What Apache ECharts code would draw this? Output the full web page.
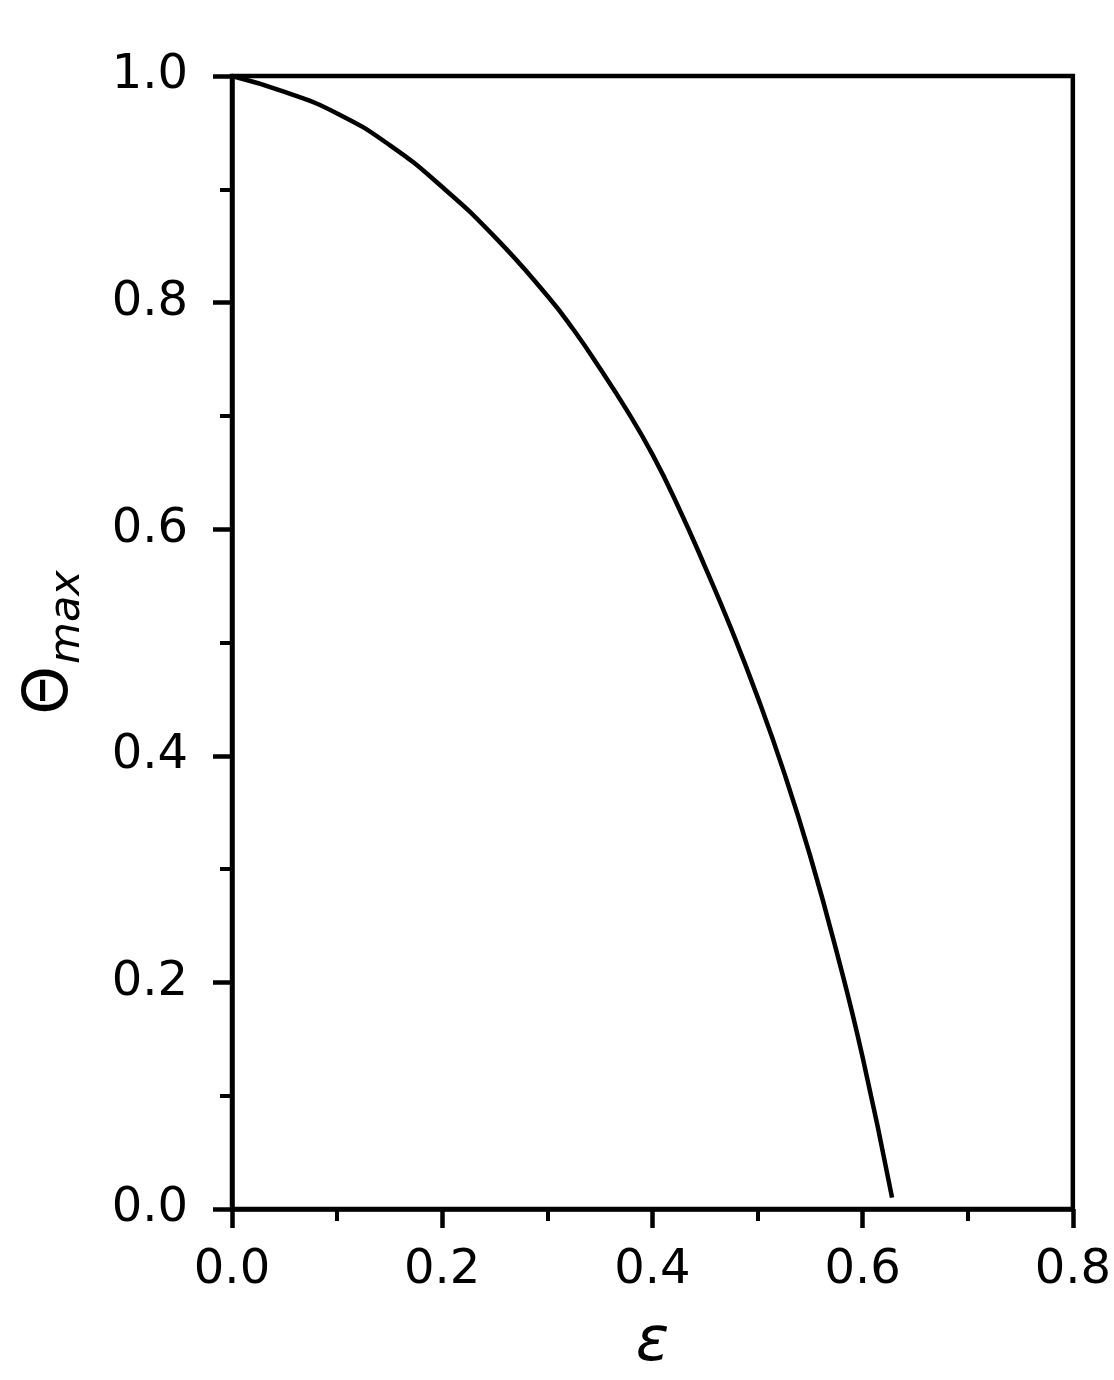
<!DOCTYPE html>
<html>
<head>
<meta charset="utf-8">
<script src="https://cdn.jsdelivr.net/npm/echarts@6/dist/echarts.min.js"></script>
<style>
html, body { margin: 0; padding: 0; background: #fff; overflow: hidden; }
#chart { width: 1114px; height: 1380px; }
</style>
</head>
<body>
<div id="chart"></div>
<script>
// values
var epsilon = [0.000, 0.050, 0.100, 0.150, 0.200, 0.250, 0.300, 0.325, 0.350, 0.375, 0.400,
               0.425, 0.450, 0.475, 0.500, 0.525, 0.550, 0.575, 0.600, 0.628];
var thetaMax = [1.000, 0.986, 0.967, 0.939, 0.902, 0.858, 0.806, 0.776, 0.742, 0.706, 0.666,
                0.619, 0.567, 0.512, 0.452, 0.386, 0.312, 0.228, 0.134, 0.010];
var xTicks = [0, 0.8, 0.2];   // min, max, step
var yTicks = [0, 1.0, 0.2];

var pts = [];
for (var i = 0; i < epsilon.length; i++) {
    pts.push([epsilon[i], thetaMax[i]]);
}

var font = 'DejaVu Sans';
var chart = echarts.init(document.getElementById('chart'));

function axisCommon() {
    return {
        axisLine: { show: true, onZero: false, lineStyle: { color: '#000', width: 4.5 } },
        axisTick: { show: true, length: 19, lineStyle: { color: '#000', width: 4.5 } },
        minorTick: { show: true, splitNumber: 2, length: 12, lineStyle: { color: '#000', width: 4 } },
        splitLine: { show: false },
        minorSplitLine: { show: false }
    };
}

var xa = axisCommon();
xa.type = 'value';
xa.min = xTicks[0];
xa.max = xTicks[1];
xa.interval = xTicks[2];
xa.name = 'ε';
xa.nameLocation = 'middle';
xa.nameGap = 104;
xa.nameTextStyle = { fontFamily: font, fontSize: 62, fontStyle: 'italic', color: '#000' };
xa.axisLabel = {
    margin: 38, fontFamily: font, fontSize: 48, color: '#000',
    formatter: function (v) { return v.toFixed(1); }
};

var ya = axisCommon();
ya.type = 'value';
ya.min = yTicks[0];
ya.max = yTicks[1];
ya.interval = yTicks[2];
ya.name = '{a|Θ}{b|max}';
ya.nameLocation = 'middle';
ya.nameRotate = 90;
ya.nameGap = 143;
ya.nameTextStyle = {
    color: '#000',
    rich: {
        a: { fontFamily: font, fontSize: 62, color: '#000' },
        b: { fontFamily: font, fontSize: 43, fontStyle: 'italic', color: '#000', padding: [34, 0, 0, 2] }
    }
};
ya.axisLabel = {
    margin: 44, fontFamily: font, fontSize: 48, color: '#000',
    formatter: function (v) { return v.toFixed(1); }
};

option = {
    backgroundColor: '#fff',
    animation: false,
    grid: {
        left: 232, right: 37, top: 76, bottom: 167,
        show: true, borderColor: '#000', borderWidth: 4.5, backgroundColor: 'transparent'
    },
    xAxis: xa,
    yAxis: ya,
    series: [
        {
            type: 'line',
            data: pts,
            smooth: 0.5,
            symbol: 'none',
            clip: false,
            lineStyle: { color: '#000', width: 4.5 }
        }
    ]
};
chart.setOption(option);
</script>
</body>
</html>
